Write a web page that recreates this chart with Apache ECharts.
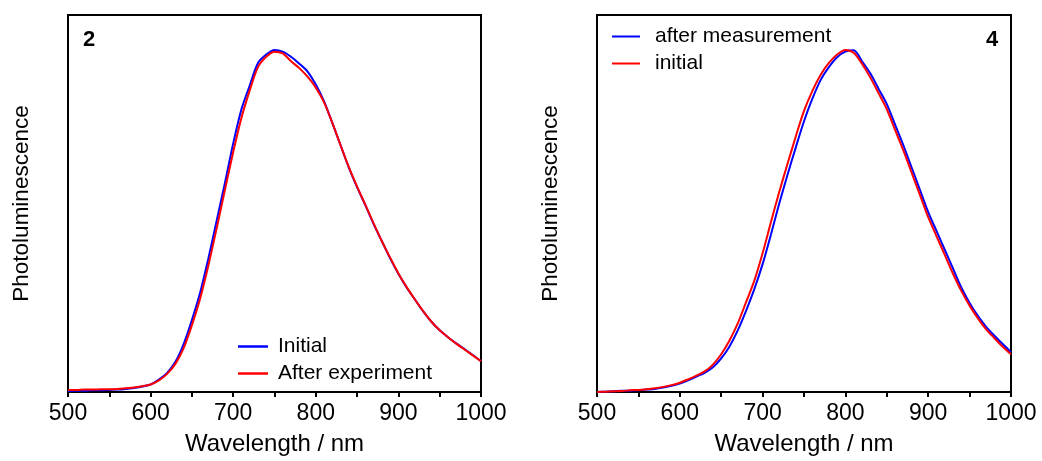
<!DOCTYPE html>
<html>
<head>
<meta charset="utf-8">
<script src="https://cdn.jsdelivr.net/npm/echarts@6/dist/echarts.min.js"></script>
<style>
html,body{margin:0;padding:0;background:#fff;}
#chart{width:1042px;height:461px;}
</style>
</head>
<body>
<div id="chart"></div>
<script>
// Wavelength grid (nm)
var wavelengths = [500,510,520,530,540,550,560,570,580,590,600,610,620,630,640,650,660,670,680,690,700,710,720,730,740,750,760,770,780,790,800,810,820,830,840,850,860,870,880,890,900,910,920,930,940,950,960,970,980,990,1000];

// Panel "2"
var p2Initial = [0.003,0.004,0.004,0.005,0.005,0.006,0.007,0.009,0.012,0.016,0.022,0.036,0.056,0.088,0.14,0.21,0.29,0.39,0.50,0.61,0.725,0.825,0.894,0.96,0.985,0.998,0.993,0.978,0.958,0.935,0.897,0.848,0.785,0.72,0.655,0.598,0.545,0.49,0.44,0.39,0.345,0.305,0.27,0.235,0.205,0.18,0.16,0.142,0.125,0.108,0.09];
var p2After = [0.006,0.006,0.007,0.007,0.008,0.008,0.009,0.011,0.013,0.017,0.022,0.034,0.053,0.082,0.128,0.195,0.273,0.37,0.478,0.59,0.70,0.80,0.88,0.948,0.978,0.993,0.988,0.965,0.945,0.92,0.888,0.845,0.785,0.72,0.656,0.599,0.546,0.492,0.44,0.392,0.346,0.306,0.27,0.236,0.205,0.18,0.16,0.141,0.124,0.107,0.09];

// Panel "4"
var p4After = [0.0,0.001,0.002,0.004,0.004,0.005,0.007,0.009,0.013,0.018,0.025,0.034,0.045,0.056,0.072,0.098,0.133,0.18,0.237,0.30,0.373,0.459,0.549,0.633,0.713,0.79,0.855,0.91,0.948,0.977,0.993,0.997,0.965,0.93,0.885,0.84,0.78,0.72,0.655,0.59,0.525,0.47,0.415,0.36,0.305,0.26,0.222,0.19,0.164,0.14,0.116];
var p4Initial = [0.0,0.001,0.002,0.003,0.005,0.006,0.008,0.011,0.015,0.02,0.027,0.037,0.048,0.06,0.08,0.11,0.15,0.20,0.262,0.325,0.405,0.495,0.583,0.665,0.745,0.82,0.878,0.925,0.96,0.985,0.998,0.99,0.958,0.918,0.872,0.825,0.765,0.705,0.64,0.575,0.51,0.455,0.40,0.345,0.295,0.252,0.215,0.183,0.157,0.132,0.11];

var xTicks = [500,600,700,800,900,1000];

function pairs(ys){ return wavelengths.map(function(w,i){ return [w, ys[i]]; }); }

var FONT = 'Liberation Sans, Arial, sans-serif';

function xAxisCfg(gi){
  return {
    gridIndex: gi, type:'value', min:500, max:1000, interval:100,
    name:'Wavelength / nm', nameLocation:'middle', nameGap:40,
    nameTextStyle:{fontSize:24, color:'#000', fontFamily:FONT},
    axisLine:{show:true, lineStyle:{color:'#000', width:2}},
    axisTick:{show:true, inside:false, length:5, lineStyle:{color:'#000', width:2}},
    minorTick:{show:true, splitNumber:2, length:5, lineStyle:{color:'#000', width:2}},
    axisLabel:{fontSize:23, color:'#000', fontFamily:FONT, margin:10,
      formatter:function(v){ return xTicks.indexOf(v)>=0 ? String(v) : ''; }},
    splitLine:{show:false}
  };
}
function yAxisCfg(gi){
  return {
    gridIndex: gi, type:'value', min:0, max:1.1,
    name:'Photoluminescence', nameLocation:'middle', nameGap:35,
    nameTextStyle:{fontSize:22.5, color:'#000', fontFamily:FONT},
    axisLine:{show:true, lineStyle:{color:'#000', width:2}},
    axisTick:{show:false}, axisLabel:{show:false}, splitLine:{show:false}
  };
}
function lineSeries(name, xi, data, color){
  return {
    name:name, type:'line', xAxisIndex:xi, yAxisIndex:xi, data:pairs(data),
    symbol:'none', smooth:0.3, lineStyle:{color:color, width:2}, itemStyle:{color:color},
    animation:false
  };
}

var chart = echarts.init(document.getElementById('chart'), null, {renderer:'canvas'});
chart.setOption({
  animation:false,
  backgroundColor:'#fff',
  textStyle:{fontFamily:FONT},
  title:[
    {text:'2', left:78, top:24, textStyle:{fontSize:22, fontWeight:'bold', color:'#000', fontFamily:FONT}},
    {text:'4', left:981, top:24, textStyle:{fontSize:22, fontWeight:'bold', color:'#000', fontFamily:FONT}}
  ],
  grid:[
    {left:68, top:15, width:413, height:380, show:true, borderColor:'#000', borderWidth:2, backgroundColor:'rgba(0,0,0,0)'},
    {left:597, top:15, width:414, height:380, show:true, borderColor:'#000', borderWidth:2, backgroundColor:'rgba(0,0,0,0)'}
  ],
  xAxis:[xAxisCfg(0), xAxisCfg(1)],
  yAxis:[yAxisCfg(0), yAxisCfg(1)],
  legend:[
    {data:[{name:'Initial', icon:'rect'},{name:'After experiment', icon:'rect'}],
     orient:'vertical', left:233, top:331, itemWidth:30, itemHeight:2.5, itemGap:6,
     textStyle:{fontSize:21, color:'#000', fontFamily:FONT, padding:[0,0,0,5]}},
    {data:[{name:'after measurement', icon:'rect'},{name:'initial', icon:'rect'}],
     orient:'vertical', left:607, top:21, itemWidth:28, itemHeight:2, itemGap:6,
     textStyle:{fontSize:21, color:'#000', fontFamily:FONT, padding:[0,0,0,10]}}
  ],
  series:[
    lineSeries('Initial', 0, p2Initial, '#0000ff'),
    lineSeries('After experiment', 0, p2After, '#ff0000'),
    lineSeries('after measurement', 1, p4After, '#0000ff'),
    lineSeries('initial', 1, p4Initial, '#ff0000')
  ]
});
</script>
</body>
</html>
